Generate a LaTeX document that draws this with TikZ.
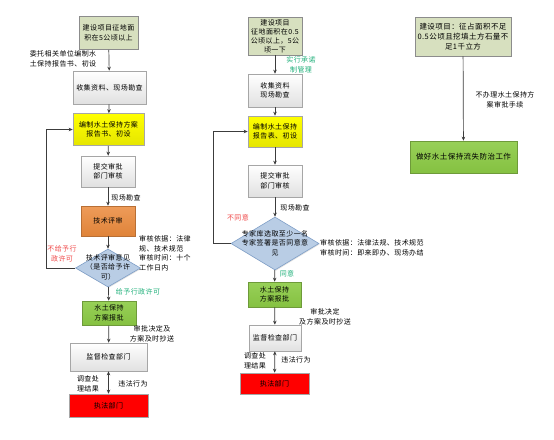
\documentclass[tikz,border=0pt]{standalone}
\usepackage{fontspec}
\setmainfont[LetterSpace=6]{Noto Sans CJK SC}
\usetikzlibrary{shapes.geometric,arrows.meta,shadows}
\definecolor{olivebox}{HTML}{D7E0BF}
\definecolor{oliveline}{HTML}{8C8C8C}
\definecolor{grayline}{HTML}{A6A6A6}
\definecolor{yellowbox}{HTML}{FFFF00}
\definecolor{orangebox}{HTML}{EB8A3C}
\definecolor{orangeline}{HTML}{B86F35}
\definecolor{bluebox}{HTML}{B9CDE5}
\definecolor{blueline}{HTML}{7F9FC8}
\definecolor{greenbox}{HTML}{8CCB45}
\definecolor{greenline}{HTML}{6E9A3A}
\definecolor{redbox}{HTML}{FF0000}
\definecolor{arrowc}{HTML}{3C3C3C}
\definecolor{greentext}{HTML}{1FB07A}
\definecolor{redtext}{HTML}{F04848}
\newcommand{\fsz}{\fontsize{7}{9.5}\selectfont}
\newcommand{\fsm}{\fontsize{7.5}{10}\selectfont}
\begin{document}
\begin{tikzpicture}[x=1pt,y=-1pt,
  box/.style={draw=grayline, line width=0.6pt, inner sep=1pt, align=center, font=\fsz,
    drop shadow={shadow xshift=0.8pt, shadow yshift=-0.8pt, opacity=0.25}},
  sz/.style 2 args={minimum width=#1pt, minimum height=#2pt},
  olivestyle/.style={box, draw=oliveline, fill=olivebox},
  graystyle/.style={box, top color=white, bottom color=black!12},
  yellowstyle/.style={box, top color=yellowbox, bottom color=yellowbox!90!black},
  orangestyle/.style={box, draw=orangeline, top color=orangebox!85!white, bottom color=orangebox!95!black},
  greenstyle/.style={box, draw=greenline, top color=greenbox!90!white, bottom color=greenbox!95!black},
  redstyle/.style={box, fill=redbox},
  decision/.style={diamond, draw=blueline, fill=bluebox, line width=0.6pt, inner sep=0pt,
    drop shadow={shadow xshift=0.8pt, shadow yshift=-0.8pt, opacity=0.25}},
  txt/.style={font=\fsz, align=center, inner sep=0pt},
  txtl/.style={font=\fsz, align=left, inner sep=0pt},
  gtxt/.style={txt, text=greentext},
  rtxt/.style={txt, text=redtext},
  arr/.style={draw=arrowc, line width=0.7pt, -{Stealth[length=4pt,width=3.5pt]}},
  darr/.style={draw=arrowc, line width=0.7pt, {Stealth[length=4pt,width=3.5pt]}-{Stealth[length=4pt,width=3.5pt]}}
]
\useasboundingbox (0,0) rectangle (554,439);
\fill[white] (0,0) rectangle (554,439);

% ---------------- left column ----------------
\node[olivestyle, sz={59}{33}] (L1) at (108.5,33) {建设项目征地面\\积在5公顷以上};
\node[graystyle, sz={73}{33}] (L2) at (109.5,87.5) {收集资料、现场勘查};
\node[yellowstyle, sz={71}{32}] (L3) at (108.5,129.5) {编制水土保持方案\\报告书、初设};
\node[graystyle, sz={54}{31}] (L4) at (108,171.5) {提交审批\\部门审核};
\node[orangestyle, sz={54}{30}] (L5) at (108,221) {技术评审};
\node[decision, sz={65}{38}] (L6) at (108,268) {};
\node[txt] (L6t) at (108,267) {技术评审意见\\（是否给予许\\可）};
\node[greenstyle, sz={54}{24}] (L7) at (109,313) {水土保持\\方案报批};
\node[graystyle, sz={77}{28}] (L8) at (108.5,357) {监督检查部门};
\node[redstyle, sz={79}{23}] (L9) at (108.5,405.5) {执法部门};

\node[txtl] (La) at (63,59) {委托相关单位编制水\\土保持报告书、初设};
\node[txt] (Lb) at (126,198) {现场勘查};
\node[txtl, anchor=west] (Lrev) at (139,253.5) {审核依据：法律\\规、技术规范\\审核时间：十个\\工作日内};
\node[rtxt] (Ld) at (62,254) {不给予行\\政许可};
\node[gtxt] (Le) at (138,292) {给予行政许可};
\node[txt] (Lf) at (152,334) {审批决定及\\方案及时抄送};
\node[txt] (Lg) at (88,384) {调查处\\理结果};
\node[txt] (Lh) at (133,384) {违法行为};

\coordinate (Lk1) at (46,268);
\coordinate (Lk2) at (46,129.5);
\draw[arr] (L1) -- (L2);
\draw[arr] (L2) -- (L3);
\draw[arr] (L3) -- (L4);
\draw[arr] (L4) -- (L5);
\draw[arr] (L5) -- (L6);
\draw[arr] (L6) -- (L7);
\draw[arr] (L7) -- (L8);
\draw[darr] (L8) -- (L9);
\draw[arr] (L6.west) -- (Lk1) -- (Lk2) -- (L3.west);

% ---------------- middle column ----------------
\node[olivestyle, sz={54}{38}, font=\fontsize{7}{9}\selectfont] (M1) at (275,36) {建设项目\\征地面积在0.5\\公顷以上，5公\\顷一下};
\node[graystyle, sz={54}{33}] (M2) at (275,90.5) {收集资料\\现场勘查};
\node[yellowstyle, sz={54}{31}] (M3) at (275,131.5) {编制水土保持\\报告表、初设};
\node[graystyle, sz={54}{32}] (M4) at (275,181) {提交审批\\部门审核};
\node[decision, sz={88}{53}] (M5) at (275,243.5) {};
\node[txt] (M5t) at (275,243) {专家库选取至少一名\\专家签署是否同意意\\见};
\node[greenstyle, sz={53}{25}] (M6) at (274.5,294.5) {水土保持\\方案报批};
\node[graystyle, sz={52}{26}] (M7) at (275,338) {监督检查部门};
\node[redstyle, sz={69}{21}] (M8) at (274.5,383.5) {执法部门};

\node[gtxt] (Ma) at (301,65) {实行承诺\\制管理};
\node[txt] (Mb) at (295,208) {现场勘查};
\node[rtxt] (Mc) at (238,218) {不同意};
\node[txtl, anchor=west] (Mrev) at (320,248) {审核依据：法律法规、技术规范\\审核时间：即来即办、现场办结};
\node[gtxt] (Md) at (287,274) {同意};
\node[txt] (Me) at (325,317) {审批决定\\及方案及时抄送};
\node[txt] (Mf) at (255,361) {调查处\\理结果};
\node[txt] (Mg) at (296,360) {违法行为};

\coordinate (Mk1) at (213,243.5);
\coordinate (Mk2) at (213,131.5);
\draw[arr] (M1) -- (M2);
\draw[arr] (M2) -- (M3);
\draw[arr] (M3) -- (M4);
\draw[arr] (M4) -- (M5);
\draw[arr] (M5) -- (M6);
\draw[arr] (M6) -- (M7);
\draw[darr] (M7) -- (M8);
\draw[arr] (M5.west) -- (Mk1) -- (Mk2) -- (M3.west);

% ---------------- right column ----------------
\node[olivestyle, sz={96}{39}, font=\fsm] (R1) at (463,36.5) {建设项目：征占面积不足\\0.5公顷且挖填土方石量不\\足1千立方};
\node[greenstyle, sz={107}{32}, font=\fsm] (R2) at (463.5,157) {做好水土保持流失防治工作};
\node[txt] (Ra) at (505,100) {不办理水土保持方\\案审批手续};
\draw[arr] (R1) -- (R2);
\end{tikzpicture}
\end{document}
